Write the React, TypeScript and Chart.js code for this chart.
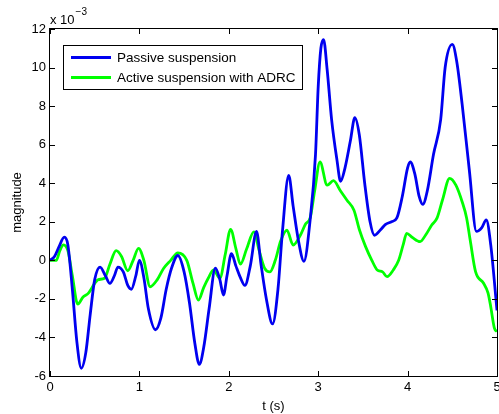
import React, { useEffect, useRef } from "react";
import { Chart, registerables } from "chart.js";

Chart.register(...registerables);

// ---- data (magnitude in units of 10^-3) ----
const X_MIN = 0;
const X_MAX = 5;
const X_STEP = 1;
const Y_MIN = -6;
const Y_MAX = 12;
const Y_STEP = 2;
const EXP_BASE = "x 10";
const EXP_POWER = "\u22123";
const X_TITLE = "t (s)";
const Y_TITLE = "magnitude";
const SERIES_NAMES = ["Passive suspension", "Active suspension with ADRC"];
const SERIES_COLORS = ["#0000F0", "#00FF00"];

const passiveT = [0, 0.05, 0.1, 0.16, 0.2, 0.25, 0.3, 0.35, 0.4, 0.45, 0.5, 0.56, 0.62, 0.67, 0.72, 0.76, 0.82, 0.87, 0.91, 0.96, 1.0, 1.05, 1.1, 1.18, 1.24, 1.3, 1.36, 1.43, 1.5, 1.56, 1.62, 1.67, 1.72, 1.78, 1.85, 1.9, 1.94, 1.98, 2.03, 2.08, 2.13, 2.18, 2.24, 2.31, 2.36, 2.42, 2.49, 2.55, 2.6, 2.67, 2.72, 2.78, 2.84, 2.91, 2.97, 3.0, 3.03, 3.06, 3.1, 3.15, 3.21, 3.25, 3.3, 3.36, 3.41, 3.46, 3.52, 3.58, 3.63, 3.7, 3.75, 3.82, 3.88, 3.94, 4.0, 4.03, 4.08, 4.13, 4.17, 4.22, 4.29, 4.37, 4.42, 4.5, 4.55, 4.61, 4.69, 4.77, 4.83, 4.88, 4.93, 5.0];
const passiveV = [0, 0.2, 0.7, 1.2, 0.8, -1.5, -4.2, -5.6, -4.8, -2.8, -1.0, -0.35, -0.8, -1.2, -0.8, -0.35, -0.6, -1.3, -1.5, -0.8, 0, -0.9, -2.5, -3.6, -3.0, -1.5, -0.4, 0.25, -0.6, -2.2, -4.3, -5.4, -4.5, -2.5, -0.4, -1.0, -1.8, -0.8, 0.35, -0.3, -0.9, -1.3, -0.3, 1.5, -0.2, -2.0, -3.3, -1.5, 1.5, 4.4, 2.8, 1.0, -0.05, 2.1, 5.5, 9.0, 11.0, 11.45, 9.9, 7.3, 5.2, 4.1, 4.8, 6.2, 7.4, 6.5, 4.0, 2.0, 1.3, 1.6, 1.85, 2.0, 2.2, 3.3, 4.8, 5.1, 4.5, 3.3, 2.9, 3.6, 5.5, 7.3, 10.0, 11.2, 10.3, 8.1, 4.7, 1.5, 1.7, 2.1, 0.8, -2.6];

const activeT = [0, 0.07, 0.11, 0.15, 0.2, 0.25, 0.31, 0.37, 0.43, 0.5, 0.54, 0.61, 0.67, 0.74, 0.8, 0.87, 0.93, 0.99, 1.05, 1.12, 1.2, 1.27, 1.35, 1.43, 1.53, 1.6, 1.66, 1.72, 1.77, 1.83, 1.9, 1.96, 2.02, 2.08, 2.13, 2.2, 2.28, 2.34, 2.4, 2.46, 2.52, 2.58, 2.65, 2.72, 2.8, 2.86, 2.91, 2.96, 3.02, 3.1, 3.17, 3.25, 3.32, 3.4, 3.46, 3.53, 3.6, 3.66, 3.72, 3.77, 3.84, 3.9, 3.95, 3.99, 4.05, 4.14, 4.2, 4.27, 4.33, 4.39, 4.47, 4.54, 4.61, 4.66, 4.7, 4.76, 4.85, 4.9, 4.93, 4.97, 5.0];
const activeV = [0, 0, 0.5, 0.8, 0.5, -0.8, -2.27, -1.9, -1.7, -1.2, -1.0, -0.93, -0.2, 0.5, 0.2, -0.54, 0.0, 0.62, 0.0, -1.37, -1.0, -0.42, 0.0, 0.39, 0.0, -1.2, -2.06, -1.4, -0.93, -0.5, -0.93, 0.3, 1.61, 0.6, -0.2, 0.6, 1.48, 0.5, -0.4, -0.6, 0.0, 1.0, 1.57, 0.79, 1.3, 1.9, 2.2, 3.6, 5.1, 3.9, 4.13, 3.6, 3.13, 2.6, 1.6, 0.71, 0.0, -0.5, -0.6, -0.85, -0.5, 0.0, 0.8, 1.4, 1.2, 0.97, 1.3, 1.83, 2.2, 3.13, 4.25, 3.9, 3.04, 2.2, 1.05, -0.59, -1.19, -1.7, -2.41, -3.5, -3.7];

const FONT_FAMILY = "'Liberation Sans', Arial, Helvetica, sans-serif";

const toPoints = (t: number[], v: number[]) => t.map((x, i) => ({ x, y: v[i] }));

const framePlugin = {
  id: "matlabFrame",
  afterDraw(chart: any) {
    const { ctx, chartArea } = chart;
    const { left, right, top, bottom } = chartArea;
    const xs = chart.scales.x;
    const ys = chart.scales.y;
    const tickLen = 5;
    ctx.save();
    ctx.strokeStyle = "#000";
    ctx.lineWidth = 1;
    ctx.strokeRect(Math.round(left) - 0.5, Math.round(top) - 0.5, Math.round(right - left) + 1, Math.round(bottom - top) + 1);
    ctx.beginPath();
    xs.ticks.forEach((t: any) => {
      const px = Math.round(xs.getPixelForValue(t.value)) + 0.5;
      ctx.moveTo(px, bottom);
      ctx.lineTo(px, bottom - tickLen);
      ctx.moveTo(px, top);
      ctx.lineTo(px, top + tickLen);
    });
    ys.ticks.forEach((t: any) => {
      const py = Math.round(ys.getPixelForValue(t.value)) + 0.5;
      ctx.moveTo(left, py);
      ctx.lineTo(left + tickLen, py);
      ctx.moveTo(right, py);
      ctx.lineTo(right - tickLen, py);
    });
    ctx.stroke();

    // exponent label
    ctx.fillStyle = "#000";
    ctx.textBaseline = "alphabetic";
    ctx.textAlign = "left";
    ctx.font = `13px ${FONT_FAMILY}`;
    ctx.fillText(EXP_BASE, left, top - 5);
    const w = ctx.measureText(EXP_BASE).width;
    ctx.font = `10px ${FONT_FAMILY}`;
    ctx.fillText(EXP_POWER, left + w + 1, top - 14);

    // legend
    const lx = left + 13;
    const ly = top + 16;
    const lw = 239;
    const lh = 44;
    ctx.fillStyle = "#fff";
    ctx.fillRect(lx, ly, lw, lh);
    ctx.strokeStyle = "#000";
    ctx.lineWidth = 1;
    ctx.strokeRect(Math.round(lx) + 0.5, Math.round(ly) + 0.5, lw, lh);
    chart.data.datasets.forEach((ds: any, i: number) => {
      const yy = ly + 12.5 + i * 20;
      ctx.strokeStyle = ds.borderColor;
      ctx.lineWidth = 2.8;
      ctx.beginPath();
      ctx.moveTo(lx + 8, yy);
      ctx.lineTo(lx + 48, yy);
      ctx.stroke();
      ctx.fillStyle = "#000";
      ctx.font = `13.5px ${FONT_FAMILY}`;
      ctx.textBaseline = "middle";
      ctx.fillText(ds.label, lx + 54, yy + 1);
    });
    ctx.restore();
  },
};

export default function App() {
  const ref = useRef<HTMLCanvasElement | null>(null);
  useEffect(() => {
    if (!ref.current) return;
    const chart = new Chart(ref.current, {
      type: "line",
      data: {
        datasets: [
          {
            label: SERIES_NAMES[0],
            data: toPoints(passiveT, passiveV),
            borderColor: SERIES_COLORS[0],
            borderWidth: 2.8,
            pointRadius: 0,
            cubicInterpolationMode: "monotone",
            fill: false,
          },
          {
            label: SERIES_NAMES[1],
            data: toPoints(activeT, activeV),
            borderColor: SERIES_COLORS[1],
            borderWidth: 2.8,
            pointRadius: 0,
            cubicInterpolationMode: "monotone",
            fill: false,
          },
        ],
      },
      options: {
        responsive: false,
        animation: false,
        layout: { padding: { top: 29, right: 2, left: 0, bottom: 0 } },
        plugins: { legend: { display: false }, tooltip: { enabled: false } },
        scales: {
          x: {
            type: "linear",
            min: X_MIN,
            max: X_MAX,
            afterFit: (s: any) => { s.height = 38; s.paddingLeft = 0; s.paddingRight = 0; },
            ticks: { stepSize: X_STEP, color: "#000", padding: 4, maxRotation: 0, font: { size: 13, family: FONT_FAMILY } },
            grid: { display: false, drawTicks: false },
            border: { display: false },
            title: { display: true, text: X_TITLE, color: "#000", padding: { top: 0, bottom: 0 }, font: { size: 13, family: FONT_FAMILY } },
          },
          y: {
            type: "linear",
            min: Y_MIN,
            max: Y_MAX,
            afterFit: (s: any) => { s.width = 50; s.paddingTop = 0; s.paddingBottom = 0; },
            ticks: { stepSize: Y_STEP, color: "#000", padding: 4, font: { size: 13, family: FONT_FAMILY } },
            grid: { display: false, drawTicks: false },
            border: { display: false },
            title: { display: true, text: Y_TITLE, color: "#000", padding: { top: 10, bottom: 0 }, font: { size: 13, family: FONT_FAMILY } },
          },
        },
      },
      plugins: [framePlugin],
    } as any);
    return () => chart.destroy();
  }, []);
  return (
    <div style={{ position: "fixed", left: 0, top: 0, width: 499, height: 414, background: "#fff" }}>
      <canvas ref={ref} width={499} height={414} style={{ display: "block" }} />
    </div>
  );
}
